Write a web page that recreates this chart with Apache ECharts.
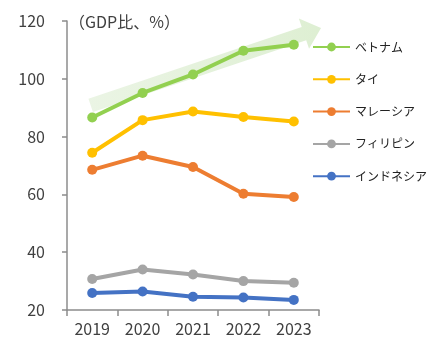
<!DOCTYPE html>
<html><head><meta charset="utf-8">
<script src="https://cdn.jsdelivr.net/npm/echarts@6/dist/echarts.min.js"></script>
<style>html,body{margin:0;padding:0;background:#fff}#c{width:430px;height:338px}</style>
</head><body><div id="c"></div>
<script>
const years = ['2019','2020','2021','2022','2023'];
const yTicks = {min:20, max:120, interval:20};
const unitLabel = '（GDP比、%）';
const vietnam = [86.6, 95.1, 101.5, 109.7, 111.8];
const thailand = [74.4, 85.7, 88.7, 86.8, 85.2];
const malaysia = [68.5, 73.4, 69.5, 60.2, 59.1];
const philippines = [30.7, 34.0, 32.3, 30.0, 29.4];
const indonesia = [25.9, 26.4, 24.6, 24.3, 23.5];
const names = ['ベトナム','タイ','マレーシア','フィリピン','インドネシア'];
const colors = ['#92d050','#ffc000','#ed7d31','#a5a5a5','#4472c4'];
const values = [vietnam, thailand, malaysia, philippines, indonesia];
const FONT = '"Noto Sans CJK JP", "Noto Sans", sans-serif';

const chart = echarts.init(document.getElementById('c'), null, {renderer:'canvas'});
chart.setOption({
  animation:false,
  backgroundColor:'#fff',
  textStyle:{fontFamily:FONT},
  title:{text:unitLabel, left:64, top:9, textStyle:{fontSize:16, fontWeight:'normal', color:'#404040', fontFamily:FONT}},
  grid:{left:67, right:111, top:21, bottom:28, containLabel:false},
  legend:{
    orient:'vertical', left:307, top:36, itemWidth:37, itemHeight:11, itemGap:20.3,
    textStyle:{fontSize:12, color:'#222', fontFamily:FONT},
    data:names
  },
  xAxis:{
    type:'category', data:years, boundaryGap:true,
    axisLine:{lineStyle:{color:'#8c8c8c', width:1.5}},
    axisTick:{show:true, length:6, lineStyle:{color:'#8c8c8c', width:1.5}},
    axisLabel:{fontSize:16, color:'#404040', margin:11, fontFamily:FONT}
  },
  yAxis:{
    type:'value', min:yTicks.min, max:yTicks.max, interval:yTicks.interval,
    splitLine:{show:false},
    axisLine:{show:true, lineStyle:{color:'#8c8c8c', width:1.5}},
    axisTick:{show:true, length:5, lineStyle:{color:'#8c8c8c', width:1.5}},
    axisLabel:{fontSize:16, color:'#404040', margin:22, fontFamily:FONT}
  },
  series: names.map((n,i)=>({
    name:n, type:'line', data:values[i], z:5,
    symbol:'circle', symbolSize:10, showSymbol:true,
    lineStyle:{color:colors[i], width:4},
    itemStyle:{color:colors[i]}
  }))
});

// decorative trend arrow positioned in data space (fractional category positions interpolated)
function px(catPos, val){
  const i0 = Math.floor(catPos), f = catPos - i0;
  const p0 = chart.convertToPixel({gridIndex:0}, [i0, val]);
  const p1 = chart.convertToPixel({gridIndex:0}, [i0+1, val]);
  return [p0[0] + (p1[0]-p0[0])*f, p0[1]];
}
function drawArrow(){
  const a = px(-0.03, 90.8);
  const b = px(4.54, 117.6);
  const dx=b[0]-a[0], dy=b[1]-a[1], L=Math.hypot(dx,dy);
  const ux=dx/L, uy=dy/L, qx=-uy, qy=ux;
  const hw=7, hh=16, hl=18;
  const bx=b[0]-ux*hl, by=b[1]-uy*hl;
  const pts=[
    [a[0]+qx*hw, a[1]+qy*hw],
    [bx+qx*hw, by+qy*hw],
    [bx+qx*hh, by+qy*hh],
    [b[0], b[1]],
    [bx-qx*hh, by-qy*hh],
    [bx-qx*hw, by-qy*hw],
    [a[0]-qx*hw, a[1]-qy*hw]
  ];
  chart.setOption({graphic:[{
    type:'polygon', z:1, silent:true,
    shape:{points:pts},
    style:{fill:new echarts.graphic.LinearGradient(0,0,1,0,[
      {offset:0,color:'rgba(226,240,217,0.7)'},
      {offset:1,color:'rgba(220,238,208,0.95)'}
    ])}
  }]});
}
drawArrow();
</script></body></html>
